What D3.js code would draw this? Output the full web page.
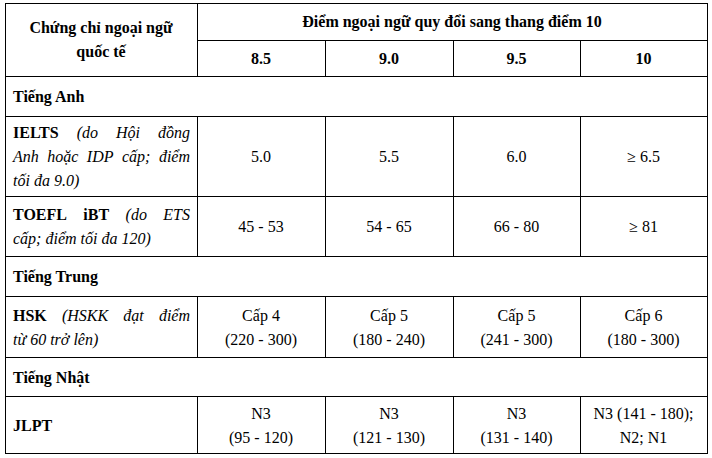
<!DOCTYPE html><html><head><meta charset="utf-8">
<script src="https://cdn.jsdelivr.net/npm/d3@7"></script>
<style>body{margin:0;background:#fff}</style></head><body>
<svg id="c" width="712" height="458"></svg>
<script>
const headerLeft = ["Chứng chỉ ngoại ngữ", "quốc tế"];
const headerTop = "Điểm ngoại ngữ quy đổi sang thang điểm 10";
const scores = ["8.5", "9.0", "9.5", "10"];
const groups = ["Tiếng Anh", "Tiếng Trung", "Tiếng Nhật"];
const certNames = [
  [["IELTS", "(do Hội đồng"], ["", "Anh hoặc IDP cấp; điểm"], ["", "tối đa 9.0)"]],
  [["TOEFL iBT", "(do ETS"], ["", "cấp; điểm tối đa 120)"]],
  [["HSK", "(HSKK đạt điểm"], ["", "từ 60 trở lên)"]],
  [["JLPT", ""]]
];
const ieltsValues = [["5.0"], ["5.5"], ["6.0"], ["≥ 6.5"]];
const toeflValues = [["45 - 53"], ["54 - 65"], ["66 - 80"], ["≥ 81"]];
const hskValues = [["Cấp 4", "(220 - 300)"], ["Cấp 5", "(180 - 240)"], ["Cấp 5", "(241 - 300)"], ["Cấp 6", "(180 - 300)"]];
const jlptValues = [["N3", "(95 - 120)"], ["N3", "(121 - 130)"], ["N3", "(131 - 140)"], ["N3 (141 - 180);", "N2; N1"]];

const svg = d3.select("#c");
const font = "Liberation Serif";
const colX = [5, 197, 325, 453, 580, 707];
const rowY = [3, 40, 76, 116, 196, 256, 296, 357, 396, 453];
const x = d3.scaleOrdinal().domain(d3.range(6)).range(colX);
const y = d3.scaleOrdinal().domain(d3.range(10)).range(rowY);
const g = svg.append("g").style("font-family", font).style("font-size", "16px").attr("fill", "#000");
const line = (x1, y1, x2, y2) => g.append("line").attr("x1", x1).attr("y1", y1).attr("x2", x2).attr("y2", y2).attr("stroke", "#000").attr("stroke-width", 1);

[0, 2, 3, 4, 5, 6, 7, 8, 9].forEach(r => line(x(0), y(r) + .5, x(5) + 1, y(r) + .5));
line(x(1), y(1) + .5, x(5), y(1) + .5);
line(x(0) + .5, y(0), x(0) + .5, y(9)); line(x(5) + .5, y(0), x(5) + .5, y(9));
const dataRows = [4, 5, 7, 9];
line(x(1) + .5, y(0), x(1) + .5, y(2));
[2, 3, 4].forEach(c => line(x(c) + .5, y(1), x(c) + .5, y(2)));
dataRows.forEach(r => [1, 2, 3, 4].forEach(c => line(x(c) + .5, y(r - 1), x(c) + .5, y(r))));

const bold = (tx, ty, s) => g.append("text").attr("x", tx).attr("y", ty).attr("text-anchor", "middle").attr("font-weight", "bold").text(s);
bold((x(0) + x(1)) / 2, 33, headerLeft[0]);
bold((x(0) + x(1)) / 2, 57, headerLeft[1]);
bold((x(1) + x(5)) / 2, 27, headerTop);
scores.forEach((s, i) => bold((x(i + 1) + x(i + 2)) / 2, 64, s));
[3, 6, 8].forEach((r, i) => g.append("text").attr("x", 13).attr("y", (y(r - 1) + y(r)) / 2 + 6).attr("font-weight", "bold").text(groups[i]));

const vals = [ieltsValues, toeflValues, hskValues, jlptValues];
const left = 13, right = 190;
dataRows.forEach((r, k) => {
  const top = y(r - 1), bot = y(r), mid = (top + bot) / 2;
  const lines = certNames[k], lh = 24;
  const start = mid - (lines.length - 1) * lh / 2 + 6;
  lines.forEach((ln, j) => {
    const words = [];
    if (ln[0]) ln[0].split(" ").forEach(w => words.push([w, true]));
    if (ln[1]) ln[1].split(" ").forEach(w => words.push([w, false]));
    const justify = lines.length > 1 && j < lines.length - 1;
    const nodes = words.map(([w, b]) => g.append("text").attr("y", start + j * lh)
      .attr("font-weight", b ? "bold" : null).attr("font-style", b ? null : "italic").text(w));
    const widths = nodes.map(n => n.node().getComputedTextLength());
    const total = d3.sum(widths);
    const gap = justify && nodes.length > 1 ? (right - left - total) / (nodes.length - 1) : 4;
    let cx = left;
    nodes.forEach((n, i) => { n.attr("x", cx); cx += widths[i] + gap; });
  });
  vals[k].forEach((v, c) => {
    const cx = (x(c + 1) + x(c + 2)) / 2;
    const st = mid - (v.length - 1) * 12 + 6;
    v.forEach((s, j) => g.append("text").attr("x", cx).attr("y", st + j * 24).attr("text-anchor", "middle").text(s));
  });
});
</script></body></html>
